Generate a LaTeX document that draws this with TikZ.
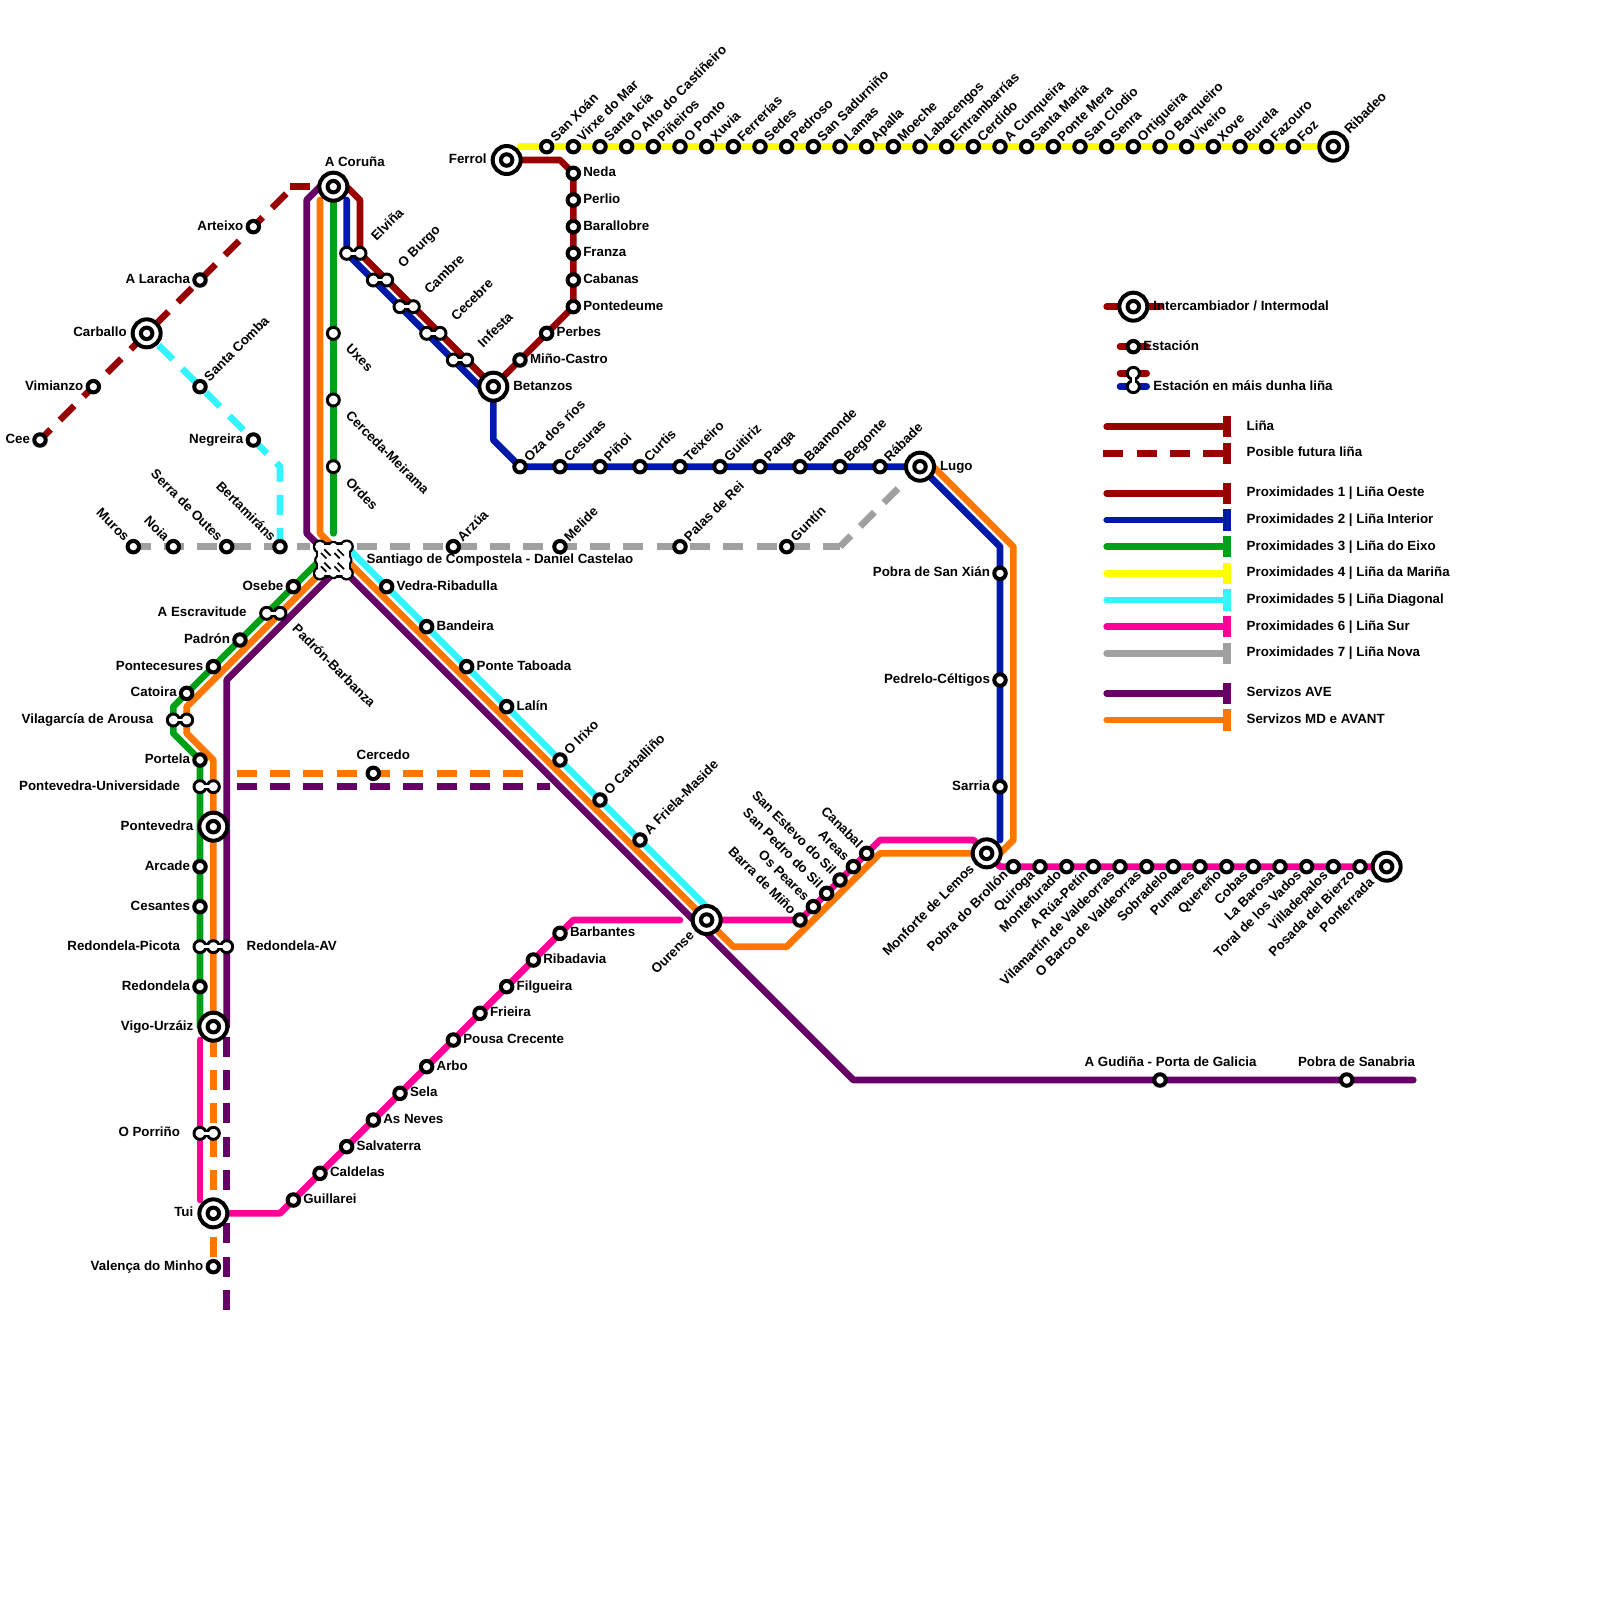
\documentclass[tikz,border=0pt]{standalone}
\usepackage{fontspec}
\setmainfont{Liberation Sans}
\pgfdeclarelayer{bg}\pgfsetlayers{bg,main}
\definecolor{cRed}{HTML}{990000}
\definecolor{cBlue}{HTML}{0019A8}
\definecolor{cGreen}{HTML}{00A018}
\definecolor{cYellow}{HTML}{FFFF00}
\definecolor{cCyan}{HTML}{33F5FF}
\definecolor{cPink}{HTML}{FF0099}
\definecolor{cGrey}{HTML}{A0A0A0}
\definecolor{cPurple}{HTML}{660066}
\definecolor{cOrange}{HTML}{FF7700}
\tikzset{
 lin/.style={line width=5pt,line cap=round,line join=round},
 dsh/.style={line width=5pt,line cap=butt,line join=miter,dash pattern=on 15pt off 10pt,dash phase=#1},
 dsh/.default=17.5pt,
 stnode/.style={circle,draw=black,fill=white,line width=3pt,inner sep=0pt,outer sep=0pt,minimum size=8.6pt},
 mnode/.style={circle,draw=black,fill=white,line width=2.2pt,inner sep=0pt,outer sep=0pt,minimum size=9pt},
 ixnode/.style={circle,draw=black,fill=white,line width=3pt,inner sep=0pt,outer sep=0pt,minimum size=21pt},
 neckB/.style={draw=black,line width=5.5pt},
 neckW/.style={draw=white,line width=2pt},
 lbl/.style={font=\fontsize{10pt}{11pt}\selectfont\bfseries,inner sep=0pt,outer sep=0pt,text height=7.2pt,text depth=2pt,text=black},
 lbR/.style={xshift=#1,anchor=west},lbR/.default=7.5pt,
 lbL/.style={xshift=-#1,anchor=east},lbL/.default=7.5pt,
 lbNE/.style={xshift=0.7071*#1,yshift=0.7071*#1,rotate=45,anchor=west},lbNE/.default=7.5pt,
 lbSW/.style={xshift=-0.7071*#1,yshift=-0.7071*#1,rotate=45,anchor=east},lbSW/.default=7.5pt,
 lbNW/.style={xshift=-0.7071*#1,yshift=0.7071*#1,rotate=-45,anchor=east},lbNW/.default=7.5pt,
 lbSE/.style={xshift=0.7071*#1,yshift=-0.7071*#1,rotate=-45,anchor=west},lbSE/.default=7.5pt,
 lbUp/.style 2 args={xshift=#1,yshift=#2,anchor=west},
}
\newcommand\stn[5]{\node[stnode] (#1) at (#2,#3) {};\node[lbl,#4] (#1-t) at (#1.center) {#5};}
\newcommand\plainst[5]{\node[mnode] (#1) at (#2,#3) {};\node[lbl,#4] (#1-t) at (#1.center) {#5};}
\newcommand\ixst[5]{\node[ixnode] (#1) at (#2,#3) {};\node[stnode] (#1-in) at (#1.center) {};\node[lbl,#4] (#1-t) at (#1.center) {#5};}
% two-circle station: name, x1, x2, y, label anchor style (relative to chosen circle), text
\newcommand\mst[6]{\coordinate (#1-a0) at (#2,#4);\coordinate (#1-b0) at (#3,#4);
 \draw[neckB] (#1-a0)--(#1-b0);
 \node[mnode] (#1-a) at (#1-a0) {};\node[mnode] (#1-b) at (#1-b0) {};
 \draw[neckW] (#1-a.center)--(#1-b.center);
 \node[lbl,#5] (#1-t) at (#1-#6.center) }
\newcommand\lgd[4]{% name,y,colour,text
 \coordinate (#1-s) at (83,#2);\coordinate (#1-e) at (92,#2);
 \coordinate (#1-u) at (92,#2-0.8);\coordinate (#1-d) at (92,#2+0.8);
 \begin{pgfonlayer}{bg}\draw[lin,#3] (#1-s)--(#1-e);\draw[line width=6pt,#3] (#1-u)--(#1-d);\end{pgfonlayer}
 \node[lbl,anchor=west] (#1-t) at (93.5,#2) {#4};}
\begin{document}
\begin{tikzpicture}[x=10pt,y=-10pt]
\useasboundingbox (0,0) rectangle (120,120);
\begin{pgfonlayer}{bg}\fill[white] (0,0) rectangle (120,120);\end{pgfonlayer}
% ---- interchanges
\ixst{coruna}{25}{14}{lbUp={-6.4pt}{18pt}}{A Coruña}
\ixst{ferrol}{38}{12}{lbL=15pt}{Ferrol}
\ixst{betanzos}{37}{29}{lbR=15pt}{Betanzos}
\ixst{carballo}{11}{25}{lbL=15pt}{Carballo}
\ixst{lugo}{69}{35}{lbR=15pt}{Lugo}
\ixst{ribadeo}{100}{11}{lbNE=15pt}{Ribadeo}
\ixst{ourense}{53}{69}{lbSW=15pt}{Ourense}
\ixst{monforte}{74}{64}{lbSW=15pt}{Monforte de Lemos}
\ixst{ponferrada}{104}{65}{lbSW=15pt}{Ponferrada}
\ixst{pontevedra}{16}{62}{lbL=15pt}{Pontevedra}
\ixst{vigo}{16}{77}{lbL=15pt}{Vigo-Urzáiz}
\ixst{tui}{16}{91}{lbL=15pt}{Tui}
% ---- Liña da Mariña
\stn{y41}{41}{11}{lbNE}{San Xoán}
\stn{y43}{43}{11}{lbNE}{Virxe do Mar}
\stn{y45}{45}{11}{lbNE}{Santa Icía}
\stn{y47}{47}{11}{lbNE}{O Alto do Castiñeiro}
\stn{y49}{49}{11}{lbNE}{Piñeiros}
\stn{y51}{51}{11}{lbNE}{O Ponto}
\stn{y53}{53}{11}{lbNE}{Xuvia}
\stn{y55}{55}{11}{lbNE}{Ferrerías}
\stn{y57}{57}{11}{lbNE}{Sedes}
\stn{y59}{59}{11}{lbNE}{Pedroso}
\stn{y61}{61}{11}{lbNE}{San Sadurniño}
\stn{y63}{63}{11}{lbNE}{Lamas}
\stn{y65}{65}{11}{lbNE}{Apalla}
\stn{y67}{67}{11}{lbNE}{Moeche}
\stn{y69}{69}{11}{lbNE}{Labacengos}
\stn{y71}{71}{11}{lbNE}{Entrambarrías}
\stn{y73}{73}{11}{lbNE}{Cerdido}
\stn{y75}{75}{11}{lbNE}{A Cunqueira}
\stn{y77}{77}{11}{lbNE}{Santa María}
\stn{y79}{79}{11}{lbNE}{Ponte Mera}
\stn{y81}{81}{11}{lbNE}{San Clodio}
\stn{y83}{83}{11}{lbNE}{Senra}
\stn{y85}{85}{11}{lbNE}{Ortigueira}
\stn{y87}{87}{11}{lbNE}{O Barqueiro}
\stn{y89}{89}{11}{lbNE}{Viveiro}
\stn{y91}{91}{11}{lbNE}{Xove}
\stn{y93}{93}{11}{lbNE}{Burela}
\stn{y95}{95}{11}{lbNE}{Fazouro}
\stn{y97}{97}{11}{lbNE}{Foz}
% ---- Ferrol - Betanzos
\stn{neda}{43}{13}{lbR}{Neda}
\stn{perlio}{43}{15}{lbR}{Perlio}
\stn{barallobre}{43}{17}{lbR}{Barallobre}
\stn{franza}{43}{19}{lbR}{Franza}
\stn{cabanas}{43}{21}{lbR}{Cabanas}
\stn{pontedeume}{43}{23}{lbR}{Pontedeume}
\stn{perbes}{41}{25}{lbR}{Perbes}
\stn{mino}{39}{27}{lbR}{Miño-Castro}
% ---- Coruña - Betanzos
\mst{elvina}{26}{27}{19}{lbNE=15pt}{b}{Elviña};
\mst{burgo}{28}{29}{21}{lbNE=15pt}{b}{O Burgo};
\mst{cambre}{30}{31}{23}{lbNE=15pt}{b}{Cambre};
\mst{cecebre}{32}{33}{25}{lbNE=15pt}{b}{Cecebre};
\mst{infesta}{34}{35}{27}{lbNE=15pt}{b}{Infesta};
% ---- Eixo north
\plainst{uxes}{25}{25}{lbSE=15pt}{Uxes}
\plainst{cerceda}{25}{30}{lbSE=15pt}{Cerceda-Meirama}
\plainst{ordes}{25}{35}{lbSE=15pt}{Ordes}
% ---- West dashed
\stn{cee}{3}{33}{lbL}{Cee}
\stn{vimianzo}{7}{29}{lbL}{Vimianzo}
\stn{laracha}{15}{21}{lbL}{A Laracha}
\stn{arteixo}{19}{17}{lbL}{Arteixo}
\stn{comba}{15}{29}{lbNE}{Santa Comba}
\stn{negreira}{19}{33}{lbL}{Negreira}
\stn{bertamirans}{21}{41}{lbNW}{Bertamiráns}
\stn{muros}{10}{41}{lbNW}{Muros}
\stn{noia}{13}{41}{lbNW}{Noia}
\stn{outes}{17}{41}{lbNW}{Serra de Outes}
% ---- Interior
\stn{oza}{39}{35}{lbNE}{Oza dos ríos}
\stn{cesuras}{42}{35}{lbNE}{Cesuras}
\stn{pinoi}{45}{35}{lbNE}{Piñoi}
\stn{curtis}{48}{35}{lbNE}{Curtis}
\stn{teixeiro}{51}{35}{lbNE}{Teixeiro}
\stn{guitiriz}{54}{35}{lbNE}{Guitiriz}
\stn{parga}{57}{35}{lbNE}{Parga}
\stn{baamonde}{60}{35}{lbNE}{Baamonde}
\stn{begonte}{63}{35}{lbNE}{Begonte}
\stn{rabade}{66}{35}{lbNE}{Rábade}
\stn{xian}{75}{43}{lbL}{Pobra de San Xián}
\stn{celtigos}{75}{51}{lbL}{Pedrelo-Céltigos}
\stn{sarria}{75}{59}{lbL}{Sarria}
% ---- Nova
\stn{arzua}{34}{41}{lbNE}{Arzúa}
\stn{melide}{42}{41}{lbNE}{Melide}
\stn{palas}{51}{41}{lbNE}{Palas de Rei}
\stn{guntin}{59}{41}{lbNE}{Guntín}
% ---- Diagonal
\stn{vedra}{29}{44}{lbR}{Vedra-Ribadulla}
\stn{bandeira}{32}{47}{lbR}{Bandeira}
\stn{taboada}{35}{50}{lbR}{Ponte Taboada}
\stn{lalin}{38}{53}{lbR}{Lalín}
\stn{irixo}{42}{57}{lbNE}{O Irixo}
\stn{carballino}{45}{60}{lbNE}{O Carballiño}
\stn{friela}{48}{63}{lbNE}{A Friela-Maside}
% ---- South-west
\stn{osebe}{22}{44}{lbL}{Osebe}
\mst{escravitude}{20}{21}{46}{lbL=15pt}{a}{A Escravitude};
\node[lbl,lbSE=15pt] (padronb-t) at (escravitude-b.center) {Padrón-Barbanza};
\stn{padron}{18}{48}{lbL}{Padrón}
\stn{pontecesures}{16}{50}{lbL}{Pontecesures}
\stn{catoira}{14}{52}{lbL}{Catoira}
\mst{vilagarcia}{13}{14}{54}{lbL=15pt}{a}{Vilagarcía de Arousa};
\stn{portela}{15}{57}{lbL}{Portela}
\mst{univ}{15}{16}{59}{lbL=15pt}{a}{Pontevedra-Universidade};
\stn{arcade}{15}{65}{lbL}{Arcade}
\stn{cesantes}{15}{68}{lbL}{Cesantes}
\coordinate (picA) at (15,71);\coordinate (picB) at (16,71);\coordinate (picC) at (17,71);
\draw[neckB] (picA)--(picC);
\node[mnode] (pic-a) at (picA) {};\node[mnode] (pic-b) at (picB) {};\node[mnode] (pic-c) at (picC) {};
\draw[neckW] (pic-a.center)--(pic-c.center);
\node[lbl,lbL=15pt] (pic-t) at (pic-a.center) {Redondela-Picota};
\node[lbl,lbR=15pt] (picav-t) at (pic-c.center) {Redondela-AV};
\stn{redondela}{15}{74}{lbL}{Redondela}
\mst{porrino}{15}{16}{85}{lbL=15pt}{a}{O Porriño};
\stn{valenca}{16}{95}{lbL}{Valença do Minho}
\stn{cercedo}{28}{58}{lbUp={-12.5pt}{13pt}}{Cercedo}
% ---- Sur
\stn{guillarei}{22}{90}{lbR}{Guillarei}
\stn{caldelas}{24}{88}{lbR}{Caldelas}
\stn{salvaterra}{26}{86}{lbR}{Salvaterra}
\stn{neves}{28}{84}{lbR}{As Neves}
\stn{sela}{30}{82}{lbR}{Sela}
\stn{arbo}{32}{80}{lbR}{Arbo}
\stn{pousa}{34}{78}{lbR}{Pousa Crecente}
\stn{frieira}{36}{76}{lbR}{Frieira}
\stn{filgueira}{38}{74}{lbR}{Filgueira}
\stn{ribadavia}{40}{72}{lbR}{Ribadavia}
\stn{barbantes}{42}{70}{lbR}{Barbantes}
\stn{barra}{60}{69}{lbNW}{Barra de Miño}
\stn{peares}{61}{68}{lbNW}{Os Peares}
\stn{spedro}{62}{67}{lbNW}{San Pedro do Sil}
\stn{sestevo}{63}{66}{lbNW}{San Estevo do Sil}
\stn{areas}{64}{65}{lbNW}{Areas}
\stn{canabal}{65}{64}{lbNW}{Canabal}
\stn{brollon}{76}{65}{lbSW}{Pobra do Brollón}
\stn{quiroga}{78}{65}{lbSW}{Quiroga}
\stn{montefurado}{80}{65}{lbSW}{Montefurado}
\stn{petin}{82}{65}{lbSW}{A Rúa-Petín}
\stn{vilamartin}{84}{65}{lbSW}{Vilamartín de Valdeorras}
\stn{barco}{86}{65}{lbSW}{O Barco de Valdeorras}
\stn{sobradelo}{88}{65}{lbSW}{Sobradelo}
\stn{pumares}{90}{65}{lbSW}{Pumares}
\stn{quereno}{92}{65}{lbSW}{Quereño}
\stn{cobas}{94}{65}{lbSW}{Cobas}
\stn{barosa}{96}{65}{lbSW}{La Barosa}
\stn{toral}{98}{65}{lbSW}{Toral de los Vados}
\stn{villadepalos}{100}{65}{lbSW}{Villadepalos}
\stn{posada}{102}{65}{lbSW}{Posada del Bierzo}
\stn{gudina}{87}{81}{lbUp={-56.5pt}{13pt}}{A Gudiña - Porta de Galicia}
\stn{sanabria}{101}{81}{lbUp={-36.5pt}{13pt}}{Pobra de Sanabria}
% ---- Santiago hub
\coordinate (hub-nw) at (24,41);\coordinate (hub-ne) at (26,41);\coordinate (hub-sw) at (24,43);\coordinate (hub-se) at (26,43);
\coordinate (hub-c) at (25,42);
\coordinate (hub-n) at (25,41);\coordinate (hub-s) at (25,43);\coordinate (hub-w) at (24,42);\coordinate (hub-e) at (26,42);
\fill[black] (hub-nw) circle (5.4pt) (hub-ne) circle (5.4pt) (hub-sw) circle (5.4pt) (hub-se) circle (5.4pt)
 (hub-n) circle (4.4pt) (hub-s) circle (4.4pt) (hub-w) circle (4.4pt) (hub-e) circle (4.4pt);
\fill[black] ([shift={(-3.2pt,3.2pt)}]hub-nw) rectangle ([shift={(3.2pt,-3.2pt)}]hub-se);
\fill[white] (hub-nw) circle (3.7pt) (hub-ne) circle (3.7pt) (hub-sw) circle (3.7pt) (hub-se) circle (3.7pt)
 (hub-n) circle (2.8pt) (hub-s) circle (2.8pt) (hub-w) circle (2.8pt) (hub-e) circle (2.8pt);
\fill[white] ([shift={(-1.6pt,1.6pt)}]hub-nw) rectangle ([shift={(1.6pt,-1.6pt)}]hub-se);
\foreach \hx/\hy in {24.5/41.5,25.5/41.5,24.5/42.5,25.5/42.5}{
 \draw[black,line width=1.3pt] (\hx-0.42,\hy-0.02)--(\hx-0.02,\hy+0.38);
 \draw[black,line width=1.3pt] (\hx-0.18,\hy-0.3)--(\hx+0.3,\hy+0.18);
}
\node[lbl,anchor=west,xshift=25pt] (hub-t) at (hub-c) {Santiago de Compostela - Daniel Castelao};
% ---- bends
\coordinate (rA) at (42,12);\coordinate (rB) at (26,14);\coordinate (rC) at (27,15);
\coordinate (bA) at (26,15);\coordinate (bB) at (36,29);\coordinate (bC) at (37,30);\coordinate (bD) at (37,33);
\coordinate (bE) at (75,41);\coordinate (bF) at (75,63);
\coordinate (gA) at (25,40);\coordinate (gB) at (24,42);\coordinate (gC) at (13,53);\coordinate (gD) at (13,55);\coordinate (gE) at (15,77);
\coordinate (yA) at (39,11);
\coordinate (cA) at (21,35);\coordinate (cB) at (26,41);\coordinate (cC) at (53,68);
\coordinate (pA) at (43,69);\coordinate (pB) at (51,69);\coordinate (pC) at (21,91);
\coordinate (pD) at (66,63);\coordinate (pE) at (73,63);\coordinate (pF) at (75,65);
\coordinate (pG) at (15,78);\coordinate (pH) at (15,90);
\coordinate (grW) at (23.25,41);\coordinate (grA) at (63,41);\coordinate (grB) at (67.5,36.5);
\coordinate (vA) at (24,14);\coordinate (vB) at (23,15);\coordinate (vC) at (23,40);
\coordinate (vD) at (25,43);\coordinate (vE) at (17,51);\coordinate (vF) at (17,77);
\coordinate (vG) at (26,43);\coordinate (vH) at (64,81);\coordinate (vI) at (106,81);
\coordinate (vJ) at (17,90);\coordinate (vK) at (17,91);\coordinate (vL) at (17,98.25);
\coordinate (vM) at (17,59);\coordinate (vN) at (41.25,59);
\coordinate (oA) at (24,15);\coordinate (oB) at (24,40);\coordinate (oC) at (25,41);
\coordinate (oD) at (14,53);\coordinate (oE) at (14,55);\coordinate (oF) at (16,57);
\coordinate (oG) at (26,42);\coordinate (oH) at (55,71);\coordinate (oI) at (59,71);\coordinate (oJ) at (66,64);
\coordinate (oK) at (75,64);\coordinate (oL) at (76,63);\coordinate (oM) at (76,41);\coordinate (oN) at (70,35);
\coordinate (oP) at (17,58);\coordinate (oQ) at (40,58);\coordinate (oR) at (16,92);
\coordinate (rdA) at (23.25,14);\coordinate (rdB) at (21.75,14);\coordinate (rdC) at (22,14);
% ---- lines
\begin{pgfonlayer}{bg}
\draw[lin,cYellow] (yA)--(ribadeo.center);
\draw[lin,cRed] (ferrol.center)--(rA)--(neda.center)--(pontedeume.center)--(betanzos.center);
\draw[lin,cRed] (rB)--(rC)--(elvina-b.center)--(betanzos.center);
\draw[cRed,line width=5pt] (rdA)--(rdB);
\draw[dsh,cRed] (rdC)--(cee.center);
\draw[lin,cBlue] (bA)--(elvina-a.center)--(bB)--(bC)--(bD)--(oza.center)--(lugo.center)--(bE)--(bF);
\draw[lin,cBlue] (betanzos.center)--(bC);
\draw[lin,cGreen] (coruna.center)--(gA);
\draw[lin,cGreen] (gB)--(gC)--(gD)--(portela.center)--(gE);
\draw[dsh=12.4pt,cCyan] (carballo.center)--(cA)--(bertamirans.center);
\draw[lin,cCyan] (cB)--(cC);
\draw[lin,cPink] (pB)--(pA)--(guillarei.center)--(pC)--(tui.center);
\draw[lin,cPink] (pG)--(pH);
\draw[lin,cPink] (ourense.center)--(barra.center)--(pD)--(pE)--(monforte.center)--(pF)--(ponferrada.center);
\draw[dsh=2pt,cGrey] (muros.center)--(grW);
\draw[dsh,cGrey] (cB)--(grA);
\draw[dsh=3.5pt,cGrey] (grA)--(grB);
\draw[lin,cPurple] (coruna.center)--(vA)--(vB)--(vC)--(hub-c)--(vD)--(vE)--(vF);
\draw[lin,cPurple] (vG)--(vH)--(vI);
\draw[dsh,cPurple] (vF)--(vJ);
\draw[dsh,cPurple] (vK)--(vL);
\draw[dsh,cPurple] (vM)--(vN);
\draw[lin,cOrange] (oA)--(oB)--(oC)--(hub-c)--(oD)--(oE)--(oF)--(vigo.center);
\draw[lin,cOrange] (hub-c)--(oG)--(oH)--(oI)--(oJ)--(oK)--(oL)--(oM)--(oN)--(lugo.center);
\draw[dsh,cOrange] (vigo.center)--(tui.center);
\draw[dsh,cOrange] (oR)--(valenca.center);
\draw[dsh,cOrange] (oP)--(oQ);
\end{pgfonlayer}
% ---- legend
\coordinate (lgA) at (83,23);\coordinate (lgB) at (87,23);
\coordinate (lgC) at (84,26);\coordinate (lgD) at (86,26);
\coordinate (lgE) at (84,28);\coordinate (lgF) at (86,28);\coordinate (lgG) at (84,29);\coordinate (lgH) at (86,29);
\coordinate (lgI) at (82.75,34);\coordinate (lgJ) at (92,34);\coordinate (lgK) at (92,33.2);\coordinate (lgL) at (92,34.8);
\begin{pgfonlayer}{bg}
\draw[lin,cRed] (lgA)--(lgB);
\draw[lin,cRed] (lgC)--(lgD);
\draw[lin,cRed] (lgE)--(lgF);
\draw[lin,cBlue] (lgG)--(lgH);
\draw[line width=5pt,cRed,dash pattern=on 15pt off 10pt] (lgI)--(lgJ);
\draw[line width=6pt,cRed] (lgK)--(lgL);
\end{pgfonlayer}
\node[ixnode] (lg-ix) at (85,23) {};\node[stnode] (lg-ixin) at (lg-ix.center) {};
\node[lbl,anchor=west] (lg-ixt) at (86.5,23) {Intercambiador / Intermodal};
\node[stnode] (lg-st) at (85,26) {};
\node[lbl,anchor=west] (lg-stt) at (85.75,26) {Estación};
\coordinate (lgM) at (85,28);\coordinate (lgN) at (85,29);
\draw[neckB] (lgM)--(lgN);
\node[mnode] (lg-ma) at (lgM) {};\node[mnode] (lg-mb) at (lgN) {};
\draw[neckW] (lg-ma.center)--(lg-mb.center);
\node[lbl,anchor=west] (lg-mt) at (86.5,29) {Estación en máis dunha liña};
\lgd{l0}{32}{cRed}{Liña}
\node[lbl,anchor=west] (lp-t) at (93.5,34) {Posible futura liña};
\lgd{l1}{37}{cRed}{Proximidades 1 | Liña Oeste}
\lgd{l2}{39}{cBlue}{Proximidades 2 | Liña Interior}
\lgd{l3}{41}{cGreen}{Proximidades 3 | Liña do Eixo}
\lgd{l4}{43}{cYellow}{Proximidades 4 | Liña da Mariña}
\lgd{l5}{45}{cCyan}{Proximidades 5 | Liña Diagonal}
\lgd{l6}{47}{cPink}{Proximidades 6 | Liña Sur}
\lgd{l7}{49}{cGrey}{Proximidades 7 | Liña Nova}
\lgd{l8}{52}{cPurple}{Servizos AVE}
\lgd{l9}{54}{cOrange}{Servizos MD e AVANT}
\end{tikzpicture}
\end{document}
